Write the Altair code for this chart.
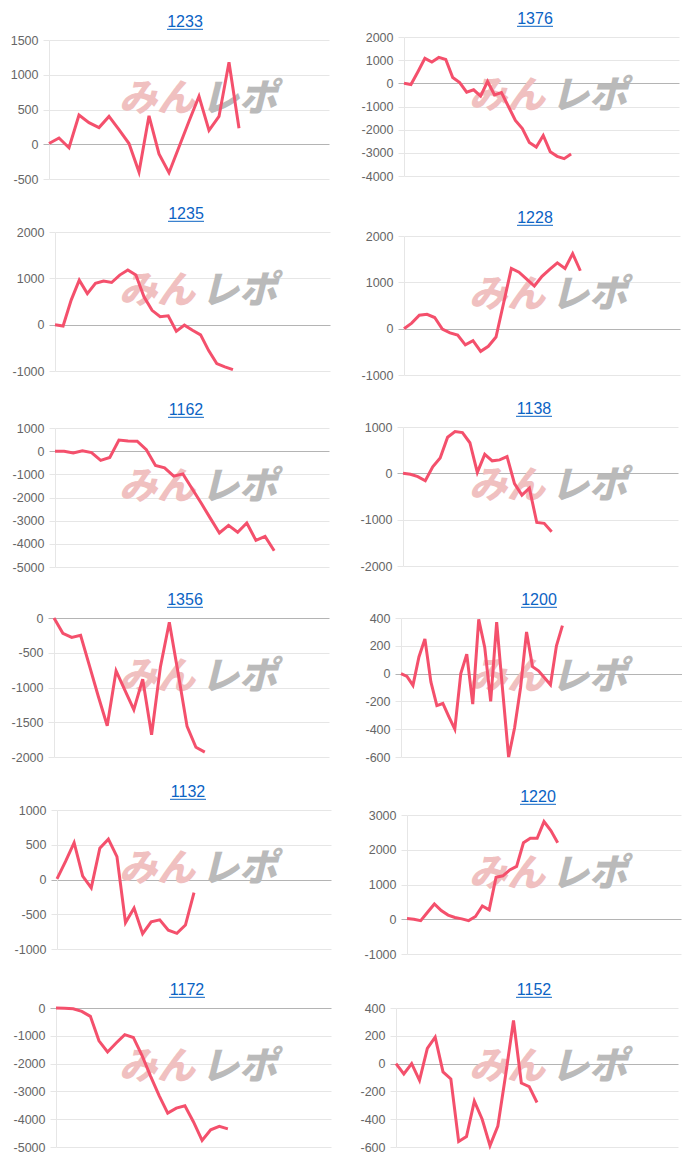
import altair as alt
import pandas as pd

# ---------------- data ----------------
names = ["1233", "1376", "1235", "1228", "1162", "1138",
         "1356", "1200", "1132", "1220", "1172", "1152"]

v1233 = [10, 90, -50, 420, 310, 240, 400, 210, 10, -400, 410, -140, -410, -40,
         330, 690, 200, 400, 1180, 230]
v1376 = [0, -50, 500, 1080, 920, 1120, 1030, 250, 30, -380, -280, -550, 80, -500,
         -400, -1000, -1600, -1950, -2550, -2750, -2250, -2950, -3150, -3250, -3050]
v1235 = [0, -30, 530, 960, 670, 890, 940, 910, 1070, 1180, 1070, 600, 310, 170,
         190, -140, -10, -120, -220, -560, -840, -910, -970]
v1228 = [0, 120, 290, 310, 240, -10, -90, -140, -350, -260, -490, -380, -180, 560,
         1300, 1220, 1070, 920, 1130, 1280, 1420, 1300, 1620, 1250]
v1162 = [0, 0, -80, 20, -60, -400, -270, 480, 440, 430, 60, -620, -720, -1080,
         -980, -1610, -2240, -2890, -3530, -3200, -3500, -3100, -3850, -3680, -4300]
v1138 = [0, -20, -70, -160, 140, 330, 780, 900, 880, 660, 20, 410, 270, 290, 360,
         -220, -470, -320, -1060, -1080, -1260]
v1356 = [0, -220, -280, -250, -690, -1130, -1550, -760, -1040, -1320, -880, -1680,
         -700, -60, -800, -1560, -1860, -1930]
v1200 = [0, -20, -85, 120, 250, -60, -230, -215, -310, -400, 0, 140, -220, 390,
         190, -200, 370, -120, -600, -390, -100, 300, 50, 20, -30, -80, 200, 345]
v1132 = [10, 260, 530, 50, -120, 450, 580, 330, -620, -410, -780, -610, -580,
         -730, -775, -655, -190]
v1220 = [20, 0, -40, 200, 440, 250, 120, 50, 10, -40, 80, 380, 270, 1210, 1250,
         1420, 1520, 2200, 2330, 2330, 2810, 2550, 2200]
v1172 = [0, -10, -30, -120, -300, -1180, -1580, -1260, -960, -1060, -1700, -2450,
         -3150, -3780, -3600, -3520, -4100, -4760, -4380, -4260, -4350]
v1152 = [0, -75, 0, -120, 110, 190, -60, -110, -560, -525, -270, -400, -590, -450,
         -80, 310, -140, -165, -280]

series = [v1233, v1376, v1235, v1228, v1162, v1138,
          v1356, v1200, v1132, v1220, v1172, v1152]
slots = [28, 39.5, 34, 36, 30, 37, 31, 47, 32, 40, 32, 36]
y_lo = [-500, -4000, -1000, -1000, -5000, -2000, -2000, -600, -1000, -1000, -5000, -600]
y_hi = [1500, 2000, 2000, 2000, 1000, 1000, 0, 400, 1000, 3000, 0, 400]
y_step = [500, 1000, 1000, 1000, 1000, 1000, 500, 200, 500, 1000, 1000, 200]

# ---------------- layout (px) ----------------
plot_left = [48, 53, 54, 53, 54, 52, 53, 50, 56, 56, 55, 45]      # within 350px panel
plot_right = [328, 328, 329, 329, 328, 327, 328, 331, 330, 330, 330, 327]
title_cx = [184, 184, 185, 184, 185, 183, 184, 188, 187, 187, 186, 183]
plot_top = [40, 37, 232, 236, 428, 427, 618, 618, 810, 815, 1008, 1008]  # absolute
PLOT_H = 139
T_ANCHOR = 30    # invisible anchor above each plot (covers the title)
B_ANCHOR = 149   # invisible anchor below each plot (covers bottom label)
ROW_SP = 10
K = B_ANCHOR + ROW_SP + T_ANCHOR + 1

# per-row vertical bookkeeping so each panel lands on its own plot_top
row_min = [min(plot_top[2 * r], plot_top[2 * r + 1]) for r in range(6)]
spread = [abs(plot_top[2 * r] - plot_top[2 * r + 1]) for r in range(6)]
extra = [0]
for r in range(1, 6):
    extra.append(max(0, row_min[r] - row_min[r - 1] - spread[r - 1] - K))
drop = [plot_top[k] - row_min[k // 2] + extra[k // 2] for k in range(12)]
PAD_TOP = row_min[0] - T_ANCHOR - extra[0] - 1

RED = "#f4506c"
BLUE = "#0b63c4"
GRID = "#e6e6e6"
ZERO = "#b4b4b4"
LABEL = "#666666"
FONT = "Liberation Sans"
JP = "Noto Sans CJK JP"


def anchor(y, w=None):
    ch = alt.Chart(pd.DataFrame({"s": [0]})).mark_rule(strokeWidth=0, opacity=0)
    if w is None:
        return ch.encode(y=alt.value(y))
    return ch.encode(x=alt.value(0), y=alt.value(0), y2=alt.value(0)).properties(width=w, height=1)


def panel(k):
    E = plot_left[k]
    W = plot_right[k] - E
    df = pd.DataFrame({"i": list(range(len(series[k]))), "v": series[k]})
    ticks = list(range(y_lo[k], y_hi[k] + 1, y_step[k]))
    cond = alt.condition("datum.value === 0", alt.value(ZERO), alt.value(GRID))
    axis = alt.Axis(values=ticks, title=None, grid=True, gridColor=cond,
                    tickColor=cond, tickSize=6, domain=True, domainColor=GRID,
                    labelFont=FONT, labelFontSize=12.5, labelColor=LABEL,
                    labelPadding=5, labelFlush=False, labelOverlap=False,
                    labelExpr="datum.value + ''", minExtent=E, maxExtent=E)
    line = alt.Chart(df).mark_line(color=RED, strokeWidth=3).encode(
        x=alt.X("i:Q", scale=alt.Scale(domain=[0, slots[k]], nice=False, zero=False), axis=None),
        y=alt.Y("v:Q", scale=alt.Scale(domain=[y_lo[k], y_hi[k]], nice=False, zero=False), axis=axis),
    )
    wm1 = alt.Chart(pd.DataFrame({"t": ["みん"]})).mark_text(
        font=JP, fontSize=38, fontWeight=900, fontStyle="italic",
        color="#f0c0c0", align="center", baseline="middle").encode(
        text="t:N", x=alt.value(156 - E), y=alt.value(60))
    wm2 = alt.Chart(pd.DataFrame({"t": ["レポ"]})).mark_text(
        font=JP, fontSize=38, fontWeight=900, fontStyle="italic",
        color="#bababa", align="center", baseline="middle").encode(
        text="t:N", x=alt.value(238 - E), y=alt.value(60))
    cx = title_cx[k] - E
    ttl = alt.Chart(pd.DataFrame({"t": [names[k]]})).mark_text(
        font=FONT, fontSize=16, color=BLUE, align="center", baseline="alphabetic").encode(
        text="t:N", x=alt.value(cx), y=alt.value(-13.3))
    ul = alt.Chart(pd.DataFrame({"u": [0]})).mark_rule(color=BLUE, strokeWidth=1).encode(
        x=alt.value(cx - 18), x2=alt.value(cx + 18), y=alt.value(-10.7))
    top = anchor(-(T_ANCHOR + drop[k]))
    bot = anchor(B_ANCHOR)
    body = alt.layer(top, bot, wm1, wm2, line, ttl, ul).properties(width=W, height=PLOT_H)
    # a zero-height spacer above sets the panel's vertical place within its row
    return alt.vconcat(anchor(0, 1), body, spacing=0)


rows = []
for r in range(6):
    left = alt.hconcat(anchor(0, 1), panel(2 * r), spacing=0)
    rows.append(alt.hconcat(left, panel(2 * r + 1), spacing=350 - plot_right[2 * r]))

chart = alt.vconcat(*rows, spacing=ROW_SP).properties(
    padding={"left": 0, "top": PAD_TOP, "right": 0, "bottom": 0},
    background="white",
).configure_view(stroke=None)

chart.save("out.html", embed_options={"renderer": "svg", "actions": False})
